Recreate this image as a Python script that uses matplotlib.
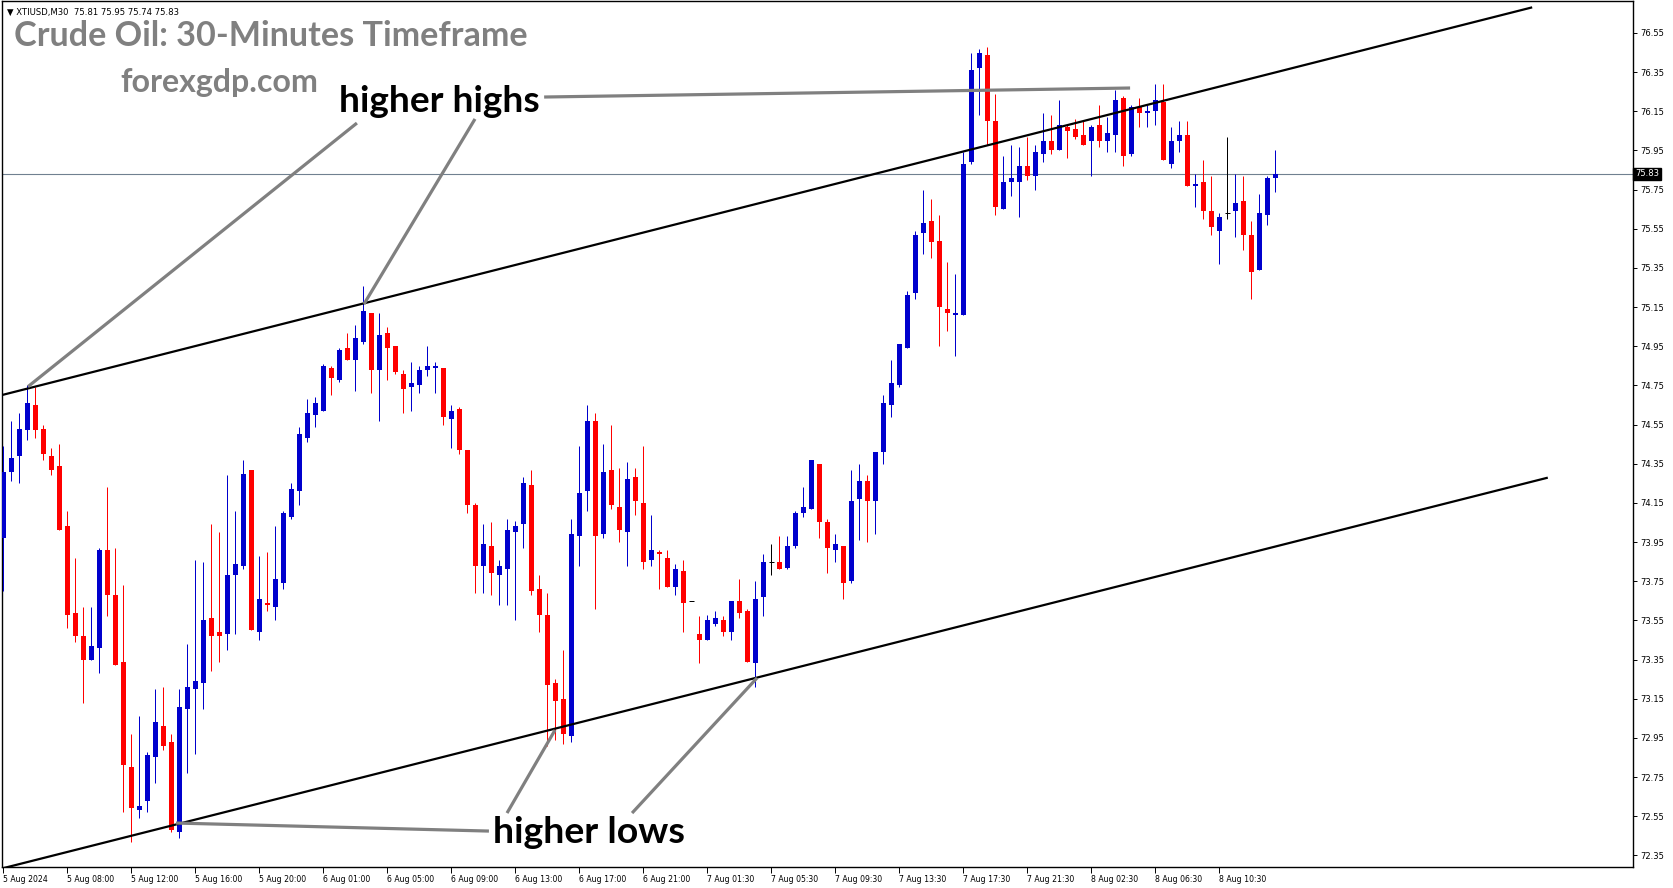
import numpy as np
import matplotlib
matplotlib.use("Agg")
import matplotlib.pyplot as plt
import matplotlib.transforms as mtransforms

# ---------------- data ----------------
opens = [73.97, 74.31, 74.39, 74.52, 74.65, 74.53, 74.39, 74.34, 74.03, 73.59,
         73.47, 73.35, 73.41, 73.91, 73.68, 73.34, 72.80, 72.58, 72.63, 72.85,
         73.01, 72.93, 72.47, 73.10, 73.20, 73.23, 73.56, 73.49, 73.48, 73.78,
         73.83, 74.32, 73.49, 73.64, 73.62, 73.74, 74.08, 74.21, 74.48, 74.60,
         74.62, 74.84, 74.78, 74.94, 74.88, 74.97, 75.12, 74.83, 75.02, 74.95,
         74.81, 74.74, 74.75, 74.83, 74.84, 74.84, 74.58, 74.63, 74.42, 74.14,
         73.83, 73.93, 73.78, 73.81, 74.00, 74.04, 74.24, 73.71, 73.58, 73.23,
         73.15, 72.96, 73.98, 74.21, 74.57, 73.99, 74.32, 74.13, 74.00, 74.28,
         74.15, 73.86, 73.90, 73.87, 73.72, 73.80, 73.65, 73.48, 73.45, 73.53,
         73.55, 73.49, 73.65, 73.60, 73.33, 73.67, 73.85, 73.85, 73.82, 73.93,
         74.10, 74.12, 74.35, 74.05, 73.91, 73.93, 73.75, 74.17, 74.26, 74.16,
         74.41, 74.65, 74.75, 74.94, 75.22, 75.53, 75.59, 75.49, 75.14, 75.11,
         75.11, 75.89, 76.37, 76.44, 76.10, 75.65, 75.79, 75.79, 75.87, 75.82,
         75.93, 76.00, 75.95, 76.07, 76.06, 76.03, 76.00, 76.08, 76.00, 76.03,
         76.22, 75.93, 76.17, 76.14, 76.15, 76.20, 75.88, 76.00, 76.03, 75.77,
         75.79, 75.64, 75.54, 75.63, 75.64, 75.69, 75.52, 75.34, 75.62, 75.81]
highs = [74.44, 74.57, 74.61, 74.75, 74.74, 74.55, 74.43, 74.45, 74.11, 73.87,
         73.62, 73.62, 73.92, 74.23, 73.92, 73.73, 72.97, 73.06, 72.88, 73.20,
         73.21, 72.97, 73.20, 73.43, 73.86, 73.85, 74.04, 74.00, 74.29, 74.11,
         74.37, 74.32, 73.88, 73.90, 74.03, 74.11, 74.25, 74.54, 74.68, 74.69,
         74.86, 74.85, 74.94, 75.02, 75.06, 75.26, 75.12, 75.12, 75.05, 74.95,
         74.83, 74.87, 74.85, 74.95, 74.87, 74.84, 74.65, 74.64, 74.42, 74.15,
         74.04, 74.05, 73.86, 74.07, 74.06, 74.28, 74.32, 73.78, 73.69, 73.25,
         73.40, 74.07, 74.44, 74.65, 74.61, 74.45, 74.55, 74.33, 74.36, 74.33,
         74.44, 74.09, 73.91, 73.91, 73.84, 73.86, 73.65, 73.57, 73.58, 73.60,
         73.57, 73.65, 73.76, 73.61, 73.75, 73.89, 73.94, 73.98, 73.98, 74.11,
         74.23, 74.37, 74.35, 74.07, 73.99, 73.93, 74.32, 74.35, 74.29, 74.41,
         74.70, 74.88, 74.96, 75.23, 75.54, 75.75, 75.70, 75.62, 75.38, 75.32,
         75.94, 76.45, 76.47, 76.48, 76.24, 75.92, 75.98, 75.97, 76.02, 75.98,
         76.14, 76.13, 76.21, 76.08, 76.11, 76.10, 76.08, 76.18, 76.12, 76.26,
         76.23, 76.18, 76.22, 76.18, 76.29, 76.29, 76.07, 76.10, 76.10, 75.83,
         75.90, 75.82, 75.63, 76.02, 75.83, 75.82, 75.59, 75.73, 75.82, 75.95]
lows = [73.70, 74.26, 74.25, 74.47, 74.48, 74.37, 74.29, 74.01, 73.51, 73.44,
        73.13, 73.35, 73.28, 73.57, 73.32, 72.57, 72.42, 72.54, 72.57, 72.72,
        72.89, 72.47, 72.44, 72.77, 72.87, 73.10, 73.29, 73.34, 73.40, 73.48,
        73.81, 73.50, 73.45, 73.60, 73.55, 73.71, 74.07, 74.14, 74.46, 74.54,
        74.62, 74.70, 74.77, 74.88, 74.72, 74.96, 74.71, 74.57, 74.78, 74.81,
        74.61, 74.62, 74.71, 74.80, 74.71, 74.55, 74.43, 74.40, 74.10, 73.69,
        73.69, 73.68, 73.63, 73.63, 73.55, 73.92, 73.68, 73.49, 72.91, 72.94,
        72.92, 72.93, 73.83, 74.11, 73.61, 73.97, 74.12, 73.95, 73.83, 74.09,
        73.81, 73.83, 73.71, 73.72, 73.68, 73.49, 73.65, 73.33, 73.45, 73.52,
        73.47, 73.45, 73.56, 73.34, 73.21, 73.57, 73.78, 73.81, 73.81, 73.92,
        74.08, 74.12, 73.97, 73.79, 73.85, 73.66, 73.74, 73.96, 73.95, 73.99,
        74.35, 74.59, 74.74, 74.94, 75.19, 75.42, 75.40, 74.95, 75.03, 74.90,
        75.11, 75.88, 76.13, 75.98, 75.62, 75.65, 75.72, 75.61, 75.80, 75.75,
        75.89, 75.93, 75.95, 75.91, 76.01, 75.98, 75.82, 75.97, 75.94, 75.94,
        75.87, 75.92, 76.07, 76.07, 76.08, 75.90, 75.86, 75.94, 75.77, 75.66,
        75.60, 75.52, 75.37, 75.60, 75.51, 75.44, 75.19, 75.34, 75.57, 75.74]
closes = [74.31, 74.38, 74.53, 74.66, 74.52, 74.40, 74.32, 74.01, 73.58, 73.47,
          73.35, 73.42, 73.91, 73.68, 73.32, 72.81, 72.59, 72.60, 72.86, 73.03,
          72.91, 72.48, 73.11, 73.21, 73.24, 73.55, 73.47, 73.47, 73.78, 73.84,
          74.30, 73.50, 73.66, 73.63, 73.76, 74.10, 74.22, 74.50, 74.61, 74.66,
          74.85, 74.79, 74.93, 74.88, 74.99, 75.13, 74.83, 75.01, 74.94, 74.82,
          74.73, 74.76, 74.83, 74.85, 74.85, 74.59, 74.62, 74.42, 74.14, 73.83,
          73.94, 73.79, 73.83, 74.01, 74.03, 74.25, 73.70, 73.58, 73.22, 73.14,
          72.97, 73.99, 74.20, 74.57, 73.98, 74.31, 74.14, 74.01, 74.27, 74.16,
          73.85, 73.91, 73.89, 73.72, 73.81, 73.64, 73.65, 73.45, 73.55, 73.56,
          73.49, 73.65, 73.59, 73.34, 73.66, 73.85, 73.85, 73.81, 73.93, 74.10,
          74.13, 74.37, 74.05, 73.92, 73.94, 73.74, 74.16, 74.26, 74.16, 74.41,
          74.66, 74.76, 74.96, 75.21, 75.52, 75.58, 75.48, 75.15, 75.12, 75.12,
          75.88, 76.36, 76.45, 76.10, 75.66, 75.79, 75.81, 75.87, 75.82, 75.94,
          76.00, 75.95, 76.08, 76.05, 76.02, 75.98, 76.07, 76.00, 76.04, 76.21,
          75.92, 76.17, 76.14, 76.15, 76.21, 75.90, 76.00, 76.03, 75.77, 75.78,
          75.64, 75.56, 75.61, 75.63, 75.68, 75.52, 75.33, 75.63, 75.81, 75.83]

tick_labels = ["5 Aug 2024", "5 Aug 08:00", "5 Aug 12:00", "5 Aug 16:00", "5 Aug 20:00",
               "6 Aug 01:00", "6 Aug 05:00", "6 Aug 09:00", "6 Aug 13:00", "6 Aug 17:00",
               "6 Aug 21:00", "7 Aug 01:30", "7 Aug 05:30", "7 Aug 09:30", "7 Aug 13:30",
               "7 Aug 17:30", "7 Aug 21:30", "8 Aug 02:30", "8 Aug 06:30", "8 Aug 10:30"]
price_ticks = [72.35, 72.55, 72.75, 72.95, 73.15, 73.35, 73.55, 73.75, 73.95, 74.15,
               74.35, 74.55, 74.75, 74.95, 75.15, 75.35, 75.55, 75.75, 75.95, 76.15,
               76.35, 76.55]
last_price = 75.83
symbol_header = "\u25BC XTIUSD,M30  75.81 75.95 75.74 75.83"

# channel lines (bar index, price)
upper_channel = [(-0.16, 74.701), (191.1, 76.681)]
lower_channel = [(-0.16, 72.283), (193.05, 74.279)]
# annotation connector lines (bar index, price)
hh_lines = [[(44.2, 76.090), (3.09, 74.744)],
            [(58.96, 76.111), (45.09, 75.166)],
            [(67.6, 76.223), (140.84, 76.269)]]
hl_lines = [[(60.7, 72.474), (21.59, 72.515)],
            [(62.96, 72.566), (68.96, 72.990)],
            [(78.59, 72.566), (94.21, 73.256)]]

# ---------------- figure ----------------
W, H = 1673, 888
fig = plt.figure(figsize=(W / 100, H / 100), dpi=100)
ax_l, ax_r, ax_t, ax_b = 2, 1633, 1, 867
ax = fig.add_axes([ax_l / W, 1 - ax_b / H, (ax_r - ax_l) / W, (ax_b - ax_t) / H])
ax.set_xlim(-0.1625, 203.7)
ax.set_ylim(72.2905, 76.7134)

BLUE = "#0000CD"
RED = "#FF0000"
x = np.arange(len(opens))
o = np.array(opens); h = np.array(highs); l = np.array(lows); c = np.array(closes)
cols = np.where(c > o, BLUE, np.where(c < o, RED, "black"))
px_lw = 0.72

ax.vlines(x, l, h, colors=cols, linewidth=px_lw, zorder=3)
body_mask = c != o
heights = np.where(np.abs(c - o) < 0.006, 0.006 * np.sign(c - o + 1e-9), c - o)
ax.bar(x[body_mask], heights[body_mask], bottom=o[body_mask], width=0.6,
       color=cols[body_mask], linewidth=0, zorder=4)
doji = ~body_mask
ax.hlines(o[doji], x[doji] - 0.35, x[doji] + 0.35, colors="black", linewidth=px_lw, zorder=4)

# channel lines
for seg in (upper_channel, lower_channel):
    xs, ys = zip(*seg)
    ax.plot(xs, ys, color="black", linewidth=1.6, zorder=5, solid_capstyle="butt")

# current price line
ax.axhline(last_price, color="#708090", linewidth=0.8, zorder=2)

# annotation lines
for seg in hh_lines + hl_lines:
    xs, ys = zip(*seg)
    ax.plot(xs, ys, color="#808080", linewidth=2.3, zorder=6, solid_capstyle="butt",
            clip_on=False)

# axes styling
for s in ax.spines.values():
    s.set_color("black")
    s.set_linewidth(1.0)
ax.yaxis.tick_right()
ax.set_yticks(price_ticks)
ax.set_yticklabels([f"{v:.2f}" for v in price_ticks])
ax.tick_params(axis="y", direction="out", length=3, width=0.7, labelsize=6, pad=2,
               colors="black")
ax.set_xticks(np.arange(0, 8 * len(tick_labels), 8))
ax.set_xticklabels(tick_labels)
ax.tick_params(axis="x", direction="out", length=4, width=0.7, labelsize=5.6, pad=1.5,
               colors="black")
for lab in ax.get_xticklabels():
    lab.set_horizontalalignment("left")

# price tag
trans = mtransforms.blended_transform_factory(ax.transAxes, ax.transData)
ax.text(1.0012, last_price, f"{last_price:.2f}", transform=trans, color="white",
        fontsize=6, va="center", ha="left", zorder=10, clip_on=False,
        bbox=dict(facecolor="black", edgecolor="black", pad=1.2))

# texts (pixel positions)
renderer = fig.canvas.get_renderer()

def ptext(px, py, s, target_w, **kw):
    t = fig.text(px / W, 1 - py / H, s, ha="left", va="baseline", **kw)
    w = t.get_window_extent(renderer).width
    t.set_fontsize(t.get_fontsize() * target_w / w)
    return t

ptext(14, 46, "Crude Oil: 30-Minutes Timeframe", 513, fontsize=22,
      fontweight="bold", color="#808080", family=["Lato", "DejaVu Sans"])
ptext(120, 92, "forexgdp.com", 198, fontsize=20, fontweight="bold",
      color="#808080", family=["Lato", "DejaVu Sans"])
ptext(339, 112, "higher highs", 200, fontsize=26, fontweight="bold",
      color="black", family=["Lato", "DejaVu Sans"], zorder=10)
ptext(493, 843, "higher lows", 192, fontsize=26, fontweight="bold",
      color="black", family=["Lato", "DejaVu Sans"], zorder=10)
ptext(7, 15, symbol_header, 173, fontsize=6, color="black",
      family=["DejaVu Sans"])

fig.savefig("out.png", dpi=100, facecolor="white")
